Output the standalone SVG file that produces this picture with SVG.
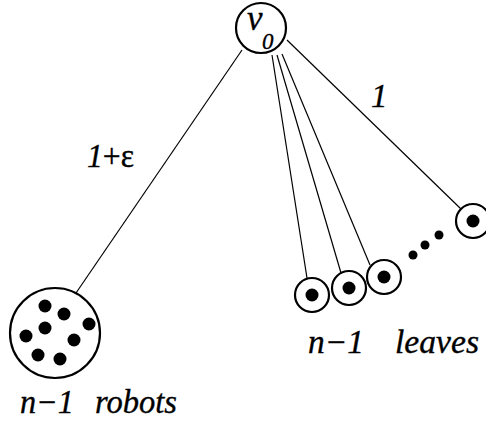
<svg xmlns="http://www.w3.org/2000/svg" width="486" height="421" viewBox="0 0 486 421">
<style>
.edge{stroke:#000;stroke-width:1.2;fill:none}
.ring{fill:#fff;stroke:#000;stroke-width:2.2}
.dot{fill:#000}
text{font-family:"Liberation Serif","Times New Roman",serif;fill:#000;stroke:#000;stroke-width:0.35}
.i{font-style:italic}
</style>
<rect width="486" height="421" fill="#fff"/>
<g id="connectors">
<line class="edge" x1="242" y1="50" x2="76" y2="293"/>
<line class="edge" x1="272" y1="55" x2="307" y2="278"/>
<line class="edge" x1="277" y1="55" x2="341" y2="273"/>
<line class="edge" x1="282" y1="54" x2="370" y2="265"/>
<line class="edge" x1="287" y1="40" x2="461" y2="209"/>
</g>
<g id="v0">
<circle class="ring" cx="261" cy="28" r="25"/>
<text class="i" x="247" y="30" font-size="35">v</text>
<text class="i" x="262" y="49" font-size="23">0</text>
</g>
<g id="robots">
<circle class="ring" cx="55" cy="333" r="45"/>
<circle class="dot" cx="45" cy="306" r="6.5"/>
<circle class="dot" cx="64" cy="314" r="6.5"/>
<circle class="dot" cx="89" cy="324" r="6.5"/>
<circle class="dot" cx="45" cy="328" r="6.5"/>
<circle class="dot" cx="26" cy="336" r="6.5"/>
<circle class="dot" cx="74" cy="340" r="6.5"/>
<circle class="dot" cx="38" cy="355" r="6.5"/>
<circle class="dot" cx="60" cy="359" r="6.5"/>
</g>
<g id="leaf1">
<circle class="ring" cx="312" cy="295" r="17"/>
<circle class="dot" cx="312" cy="295" r="6.5"/>
</g>
<g id="leaf2">
<circle class="ring" cx="349" cy="288" r="17"/>
<circle class="dot" cx="349" cy="288" r="6.5"/>
</g>
<g id="leaf3">
<circle class="ring" cx="384" cy="277" r="17"/>
<circle class="dot" cx="384" cy="277" r="6.5"/>
</g>
<g id="leaf4">
<circle class="ring" cx="473" cy="221" r="17"/>
<circle class="dot" cx="473" cy="221" r="6.5"/>
</g>
<g id="ellipsis">
<circle class="dot" cx="413" cy="255" r="4.5"/>
<circle class="dot" cx="425" cy="245" r="4.5"/>
<circle class="dot" cx="439" cy="235" r="4.5"/>
</g>
<g id="labels">
<text x="87" y="167" font-size="33" textLength="47" lengthAdjust="spacingAndGlyphs"><tspan class="i">1</tspan>+ε</text>
<text class="i" x="371" y="107" font-size="33">1</text>
<text class="i" x="20" y="413" font-size="33" textLength="54" lengthAdjust="spacingAndGlyphs">n−1</text>
<text class="i" x="95" y="413" font-size="33" textLength="82" lengthAdjust="spacingAndGlyphs">robots</text>
<text class="i" x="308" y="353" font-size="33" textLength="56" lengthAdjust="spacingAndGlyphs">n−1</text>
<text class="i" x="395" y="353" font-size="33" textLength="84" lengthAdjust="spacingAndGlyphs">leaves</text>
</g>
</svg>
